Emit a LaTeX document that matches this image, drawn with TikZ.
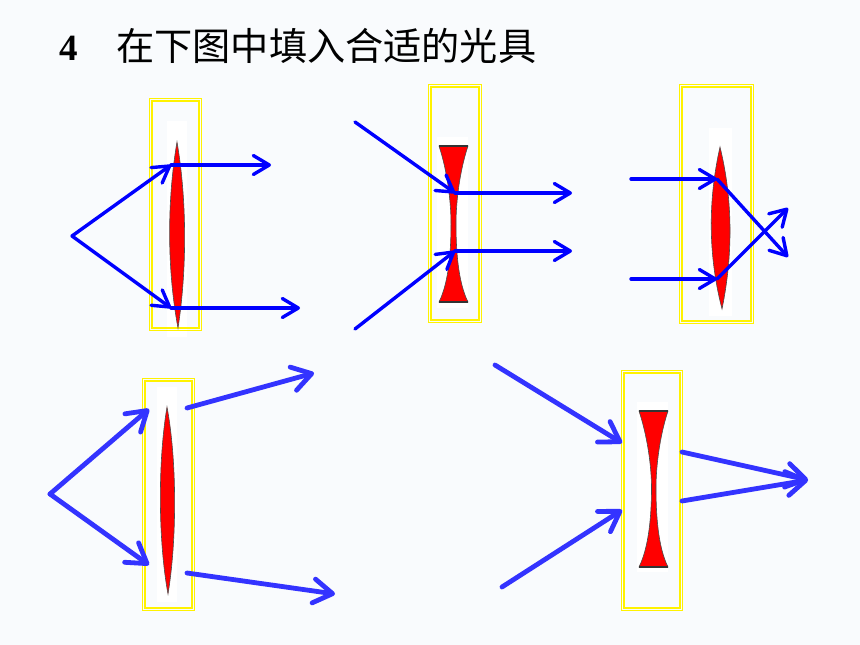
\documentclass[tikz,border=0pt]{standalone}
\usepackage{fontspec}
\setmainfont{Liberation Serif}
\newfontfamily\cjkfont{Noto Sans CJK SC}
\usetikzlibrary{arrows.meta,positioning}
\definecolor{slidebg}{HTML}{F9FBFD}
\definecolor{rayblue}{HTML}{0000FF}
\definecolor{raylight}{HTML}{3333FF}
\tikzset{
  lensbox/.style={
      rectangle,
      inner sep=0pt,
      outer sep=0pt,
      draw=yellow,
      line width=1.6pt
  },
  lensback/.style={
      rectangle,
      inner sep=0pt,
      fill=white
  },
  lensbody/.style={
      fill=red,
      draw=black!70,
      line width=0.6pt
  },
  lensedge/.style={
      draw=black!80,
      line width=1.4pt
  },
  ray/.style={
      draw=rayblue,
      line width=3.4pt,
      line cap=round
  },
  rayend/.style={
      ray,
      -{Straight Barb[length=16pt,width=19pt,round]}
  },
  beam/.style={
      draw=raylight,
      line width=4.8pt,
      line cap=round
  },
  beamend/.style={
      beam,
      -{Straight Barb[length=19pt,width=24pt,round]}
  }
}
\begin{document}
\begin{tikzpicture}[x=1pt,y=-1pt]
    \useasboundingbox[fill=slidebg] (0,0) rectangle (860,645);

    \node[anchor=base west,inner sep=0pt,font=\bfseries\fontsize{37}{37}\selectfont] (number) at (59,60) {4};
    \node[anchor=base west,inner sep=0pt,font=\cjkfont\fontsize{38.2}{38.2}\selectfont] (title) at (116,60) {在下图中填入合适的光具};

    \node[lensback,minimum width=20pt,minimum height=216pt] (backa) at (177,229) {};
    \node[lensback,minimum width=31pt,minimum height=171pt] (backb) at (452.5,222.5) {};
    \node[lensback,minimum width=23pt,minimum height=188pt] (backc) at (720.5,222) {};
    \node[lensback,minimum width=20pt,minimum height=215pt] (backd) at (167,494.5) {};
    \node[lensback,minimum width=31pt,minimum height=170pt] (backe) at (652.5,487) {};

    \node[lensbox,minimum width=52pt,minimum height=232pt] (boxa) at (175.5,214.5) {};
    \node[lensbox,minimum width=47pt,minimum height=227pt] (framea) at (175.5,214.5) {};
    \node[lensbox,minimum width=53pt,minimum height=238pt] (boxb) at (455,203.5) {};
    \node[lensbox,minimum width=48pt,minimum height=233pt] (frameb) at (455,203.5) {};
    \node[lensbox,minimum width=74pt,minimum height=239pt] (boxc) at (716.5,204) {};
    \node[lensbox,minimum width=69pt,minimum height=234pt] (framec) at (716.5,204) {};
    \node[lensbox,minimum width=52pt,minimum height=232pt] (boxd) at (168.5,494.5) {};
    \node[lensbox,minimum width=47pt,minimum height=227pt] (framed) at (168.5,494.5) {};
    \node[lensbox,minimum width=61pt,minimum height=240pt] (boxe) at (652,490.5) {};
    \node[lensbox,minimum width=56pt,minimum height=235pt] (framee) at (652,490.5) {};

    \draw[lensbody] (177,142) .. controls (187,200) and (187,270) .. (178,328) .. controls (167,270) and (167,200) .. (177,142) -- cycle;
    \draw[lensbody] (720,147) .. controls (733,200) and (733,255) .. (722,309) .. controls (708,255) and (708,200) .. (720,147) -- cycle;
    \draw[lensbody] (167,407) .. controls (177,460) and (177,540) .. (168,594) .. controls (158,540) and (158,460) .. (167,407) -- cycle;
    \draw[lensbody] (439,146) -- (468,146) .. controls (460,170) and (456,200) .. (456,224) .. controls (456,250) and (458,282) .. (468,302) -- (439,302) .. controls (449,282) and (451,250) .. (451,224) .. controls (451,200) and (447,170) .. (439,146) -- cycle;
    \draw[lensbody] (639,411) -- (668,411) .. controls (660,435) and (656,465) .. (656,488) .. controls (656,515) and (658,547) .. (668,567) -- (639,567) .. controls (649,547) and (651.5,515) .. (651.5,488) .. controls (651.5,465) and (647,435) .. (639,411) -- cycle;
    \draw[lensedge] (439,146) -- (468,146);
    \draw[lensedge] (439,302) -- (468,302);
    \draw[lensedge] (639,411) -- (668,411);
    \draw[lensedge] (639,567) -- (668,567);

    \coordinate (sourcea) at (72,236);
    \coordinate (hitaup) at (171,165);
    \coordinate (hitadown) at (171,308);
    \coordinate (outaup) at (271,165);
    \coordinate (outadown) at (300,308);
    \draw[rayend] (sourcea) -- (hitaup);
    \draw[rayend] (sourcea) -- (hitadown);
    \draw[rayend] (hitaup) -- (outaup);
    \draw[rayend] (hitadown) -- (outadown);

    \coordinate (inbup) at (355,122);
    \coordinate (inbdown) at (355,329);
    \coordinate (hitbup) at (455,193);
    \coordinate (hitbdown) at (455,251);
    \coordinate (outbup) at (572,193);
    \coordinate (outbdown) at (572,251);
    \draw[rayend] (inbup) -- (hitbup);
    \draw[rayend] (inbdown) -- (hitbdown);
    \draw[rayend] (hitbup) -- (outbup);
    \draw[rayend] (hitbdown) -- (outbdown);

    \coordinate (incup) at (631,179);
    \coordinate (incdown) at (631,279);
    \coordinate (hitcup) at (717,179);
    \coordinate (hitcdown) at (717,279);
    \coordinate (outcup) at (788,208);
    \coordinate (outcdown) at (788,257);
    \draw[rayend] (incup) -- (hitcup);
    \draw[rayend] (incdown) -- (hitcdown);
    \draw[rayend] (hitcup) -- (outcdown);
    \draw[rayend] (hitcdown) -- (outcup);

    \coordinate (sourced) at (50,494);
    \coordinate (hitdup) at (149,409);
    \coordinate (hitddown) at (149,565);
    \coordinate (startdup) at (187,408);
    \coordinate (startddown) at (187,573);
    \coordinate (outdup) at (314,373);
    \coordinate (outddown) at (335,594);
    \draw[beamend] (sourced) -- (hitdup);
    \draw[beamend] (sourced) -- (hitddown);
    \draw[beamend] (startdup) -- (outdup);
    \draw[beamend] (startddown) -- (outddown);

    \coordinate (ineup) at (495,365);
    \coordinate (inedown) at (502,587);
    \coordinate (hiteup) at (622,443);
    \coordinate (hitedown) at (622,510);
    \coordinate (starteup) at (682,452);
    \coordinate (startedown) at (682,501);
    \coordinate (oute) at (808,480);
    \draw[beamend] (ineup) -- (hiteup);
    \draw[beamend] (inedown) -- (hitedown);
    \draw[beamend] (starteup) -- (oute);
    \draw[beamend] (startedown) -- (oute);
  \end{tikzpicture}
\end{document}
